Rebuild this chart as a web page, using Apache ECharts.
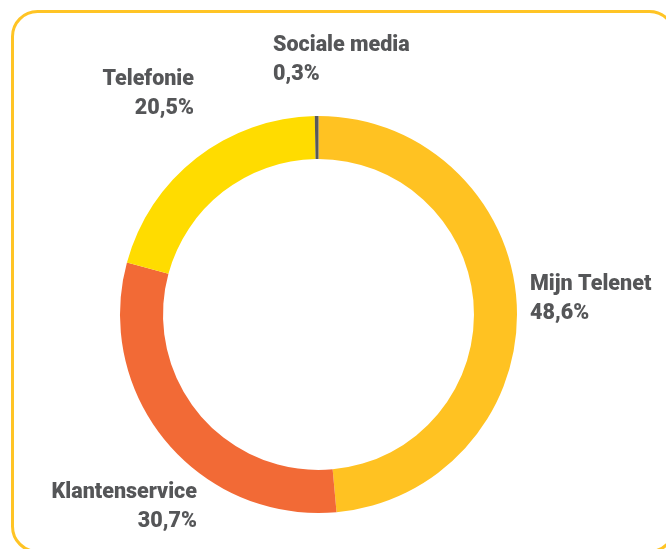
<!DOCTYPE html>
<html>
<head>
<meta charset="utf-8">
<script src="https://cdn.jsdelivr.net/npm/echarts@6/dist/echarts.min.js"></script>
<style>
  html, body { margin: 0; padding: 0; background: #ffffff; }
  #chart { width: 666px; height: 549px; }
</style>
</head>
<body>
<div id="chart"></div>
<script>
// Contact channels and their share (%)
const channels = ['Mijn Telenet', 'Klantenservice', 'Telefonie', 'Sociale media'];
const shares = [48.6, 30.7, 20.5, 0.3];
const colors = ['#FFC222', '#F26A36', '#FFDC00', '#58595B'];

// Label anchors for each channel: [x, y, align]
const labelSpots = [
  [530, 299, 'left'],
  [197, 507, 'right'],
  [194, 94, 'right'],
  [273, 60, 'left']
];

const fmt = v => v.toFixed(1).replace('.', ',') + '%';

const chart = echarts.init(document.getElementById('chart'), null, { renderer: 'canvas' });

const textStyle = {
  fontFamily: 'Roboto',
  fontWeight: 900,
  fontSize: 21.5,
  color: '#555658',
  lineHeight: 29
};

chart.setOption({
  backgroundColor: '#ffffff',
  animation: false,
  graphic: [{
    type: 'rect',
    shape: { x: 12.5, y: 11.5, width: 662, height: 540, r: 25 },
    style: { fill: 'none', stroke: '#FFC425', lineWidth: 3 },
    z: 0
  }],
  series: [{
    type: 'pie',
    center: [318.5, 314.5],
    radius: [155.5, 198.5],
    startAngle: 90,
    clockwise: true,
    avoidLabelOverlap: false,
    itemStyle: { borderWidth: 0 },
    label: {
      show: true,
      position: 'outside',
      formatter: p => '{n|' + p.name + '}\n{v|' + fmt(p.value) + '}',
      rich: { n: textStyle, v: textStyle }
    },
    labelLine: { show: false },
    labelLayout: p => {
      const s = labelSpots[p.dataIndex];
      return { x: s[0], y: s[1], align: s[2], verticalAlign: 'middle' };
    },
    emphasis: { disabled: true },
    data: channels.map((name, i) => ({
      name: name,
      value: shares[i],
      itemStyle: { color: colors[i] },
      label: { align: labelSpots[i][2] }
    }))
  }]
});
</script>
</body>
</html>
